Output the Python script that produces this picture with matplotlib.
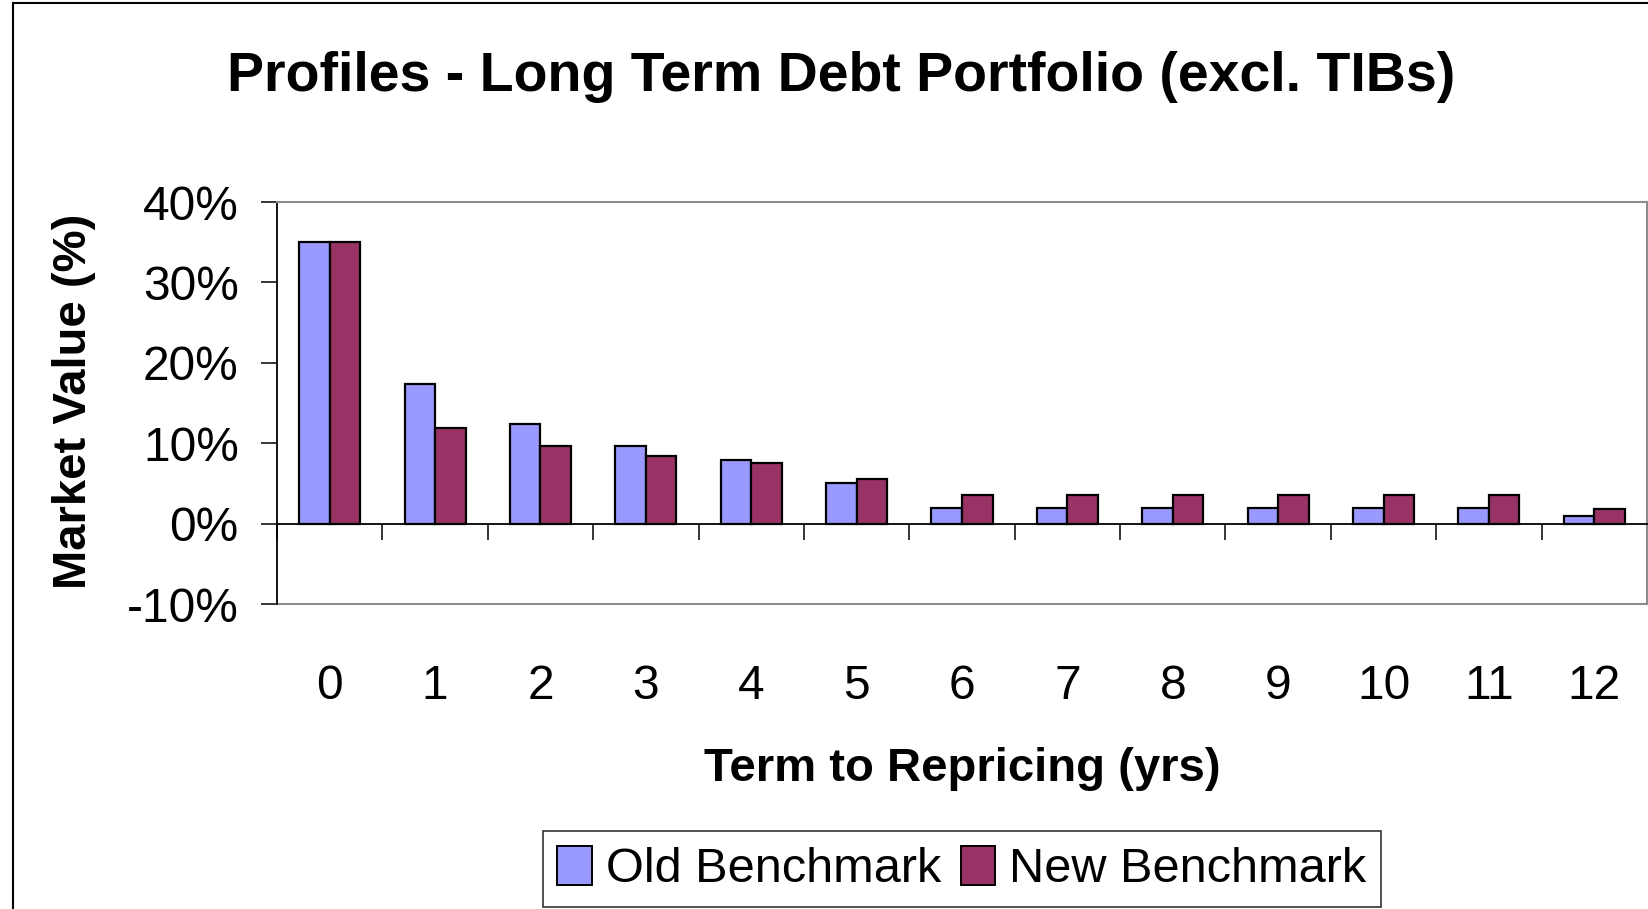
import matplotlib
matplotlib.use("Agg")
import matplotlib.pyplot as plt
from matplotlib.lines import Line2D
from matplotlib.patches import Patch
import numpy as np

categories = ["0", "1", "2", "3", "4", "5", "6", "7", "8", "9", "10", "11", "12"]
old_benchmark = [35.0, 17.4, 12.4, 9.7, 7.9, 5.0, 2.0, 2.0, 2.0, 2.0, 2.0, 2.0, 1.0]
new_benchmark = [35.0, 11.9, 9.7, 8.4, 7.5, 5.5, 3.5, 3.5, 3.5, 3.5, 3.5, 3.5, 1.8]
y_ticks = [-10, 0, 10, 20, 30, 40]

plt.rcParams['font.family'] = ['Liberation Sans', 'DejaVu Sans']

W, H = 1648, 909
fig = plt.figure(figsize=(W / 100, H / 100), dpi=100)
fig.patch.set_facecolor("white")

ax = fig.add_axes([277 / W, 1 - 604 / H, 1370 / W, 402 / H])

x = np.arange(len(categories))
bw = 0.29
old_c = "#9999FF"
new_c = "#993366"
ax.bar(x - bw / 2, old_benchmark, width=bw, color=old_c, edgecolor="black", linewidth=1.6, zorder=3)
ax.bar(x + bw / 2, new_benchmark, width=bw, color=new_c, edgecolor="black", linewidth=1.6, zorder=3)

ax.set_xlim(-0.5, 12.5)
ax.set_ylim(-10, 40)

# spines
ax.spines['bottom'].set_position(('data', 0))
ax.spines['bottom'].set_color('black')
ax.spines['bottom'].set_linewidth(1.3)
ax.spines['bottom'].set_zorder(4)
ax.spines['left'].set_color('black')
ax.spines['left'].set_linewidth(1.3)
for s in ['top', 'right']:
    ax.spines[s].set_color('#8c8c8c')
    ax.spines[s].set_linewidth(1.5)
ax.axhline(-10, color='#8c8c8c', linewidth=1.5, clip_on=False)

# x ticks
ax.set_xticks(x)
ax.set_xticklabels(categories, fontsize=34.5)
ax.set_xticks(np.arange(-0.5, 13, 1), minor=True)
ax.tick_params(axis='x', which='major', length=0, pad=101)
ax.tick_params(axis='x', which='minor', length=11.5, width=1.1, direction='out', color='black')

# y ticks
ax.set_yticks(y_ticks)
ax.set_yticklabels([f"{v}%" for v in y_ticks], fontsize=34.5)
ax.tick_params(axis='y', length=11.5, width=1.1, direction='out', pad=16)

ax.set_ylabel("Market Value (%)", fontsize=34, fontweight='bold', va='center')
ax.yaxis.set_label_coords((74 - 277) / 1370, 0.505)
ax.set_xlabel("Term to Repricing (yrs)", fontsize=34, fontweight='bold', va='center')
ax.xaxis.set_label_coords(0.5, (604 - 769) / 402)

fig.text(841 / W, 1 - 77 / H, "Profiles - Long Term Debt Portfolio (excl. TIBs)",
         ha='center', va='center', fontsize=40, fontweight='bold')

handles = [Patch(facecolor=old_c, edgecolor='black', linewidth=1.4, label='Old Benchmark'),
           Patch(facecolor=new_c, edgecolor='black', linewidth=1.4, label='New Benchmark')]
leg = fig.legend(handles=handles, loc='center', bbox_to_anchor=(962 / W, 1 - 869 / H), ncol=2,
                 fontsize=35, frameon=True, fancybox=False, edgecolor='black',
                 handlelength=0.7, handleheight=0.85, handletextpad=0.3, columnspacing=0.4,
                 borderpad=0.3, borderaxespad=0)
leg.get_frame().set_linewidth(1.2)

# outer frame
fig.add_artist(Line2D([13 / W, 13 / W], [1 - 3 / H, 0], color='black', linewidth=1.5, transform=fig.transFigure))
fig.add_artist(Line2D([13 / W, 1], [1 - 3 / H, 1 - 3 / H], color='black', linewidth=1.5, transform=fig.transFigure))

fig.savefig("out.png", dpi=100)
